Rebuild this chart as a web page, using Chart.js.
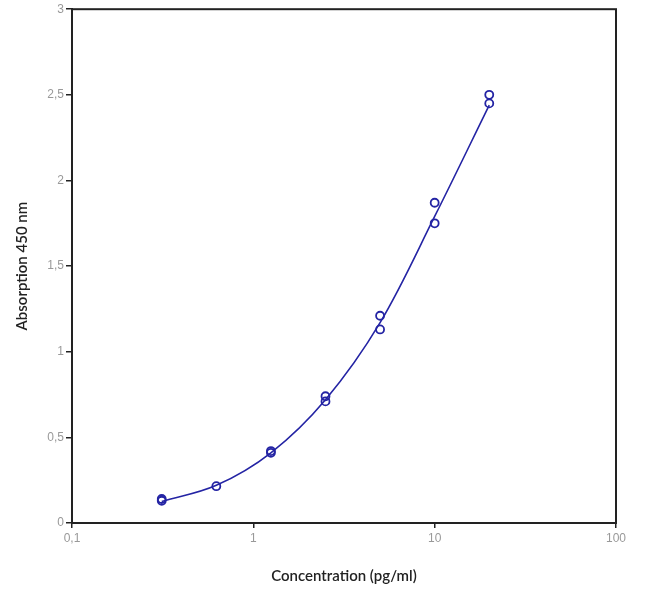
<!DOCTYPE html>
<html>
<head>
<meta charset="utf-8">
<script src="https://cdn.jsdelivr.net/npm/chart.js@4/dist/chart.umd.min.js"></script>
<style>
  html, body { margin: 0; padding: 0; background: #fff; }
  #wrap { width: 650px; height: 594px; }
</style>
</head>
<body>
<div id="wrap"><canvas id="chart"></canvas></div>
<script>
// standard concentrations (pg/ml), duplicates
const conc = [0.3125, 0.3125, 0.625, 1.25, 1.25, 2.5, 2.5, 5, 5, 10, 10, 20, 20];
const absorb = [0.14, 0.13, 0.215, 0.42, 0.41, 0.74, 0.71, 1.21, 1.13, 1.87, 1.75, 2.50, 2.45];

// fitted curve
const fitConc = [0.3125, 0.625, 1.25, 2.5, 5, 10, 20];
const fitAbs = [0.125, 0.22, 0.41, 0.72, 1.17, 1.79, 2.44];

const xTicks = [0.1, 1, 10, 100];
const xTickLabels = ["0,1", "1", "10", "100"];
const yTicks = [0, 0.5, 1, 1.5, 2, 2.5, 3];
const yTickLabels = ["0", "0,5", "1", "1,5", "2", "2,5", "3"];

const blue = "#2424a4";

const frame = {
  id: "frame",
  afterDraw(chart) {
    const a = chart.chartArea, ctx = chart.ctx;
    ctx.save();
    ctx.strokeStyle = "#222";
    ctx.lineWidth = 2;
    ctx.strokeRect(a.left, a.top, a.right - a.left, a.bottom - a.top);
    ctx.restore();
  }
};

new Chart(document.getElementById("chart"), {
  type: "scatter",
  data: {
    datasets: [
      {
        type: "line",
        data: fitConc.map((c, i) => ({ x: c, y: fitAbs[i] })),
        borderColor: blue,
        borderWidth: 1.6,
        pointRadius: 0,
        tension: 0.35,
        fill: false,
      },
      {
        data: conc.map((c, i) => ({ x: c, y: absorb[i] })),
        borderColor: blue,
        backgroundColor: "rgba(0,0,0,0)",
        borderWidth: 1.8,
        pointRadius: 4,
      },
    ],
  },
  options: {
    responsive: true,
    maintainAspectRatio: false,
    animation: false,
    layout: { padding: { left: 0, right: 34, top: 7, bottom: 0 } },
    plugins: {
      legend: { display: false },
      tooltip: { enabled: false },
    },
    scales: {
      x: {
        type: "logarithmic",
        min: 0.1,
        max: 100,
        afterBuildTicks: (s) => { s.ticks = xTicks.map((v) => ({ value: v })); },
        afterFit: (s) => { s.height = 71; },
        grid: { drawOnChartArea: false, tickLength: 5, color: "#222", lineWidth: 1.5 },
        border: { color: "#222", width: 2 },
        ticks: {
          color: "#999",
          font: { family: "Liberation Sans", size: 12 },
          padding: 3,
          callback: (v) => xTickLabels[xTicks.indexOf(v)],
        },
        title: {
          display: true,
          text: "Concentration (pg/ml)",
          color: "#222",
          font: { family: "Lato", size: 15, weight: "600" },
          padding: { top: 8, bottom: 9 },
        },
      },
      y: {
        min: 0,
        max: 3,
        afterBuildTicks: (s) => { s.ticks = yTicks.map((v) => ({ value: v })); },
        afterFit: (s) => { s.width = 72; },
        grid: { drawOnChartArea: false, tickLength: 6, color: "#222", lineWidth: 1.5 },
        border: { color: "#222", width: 2 },
        ticks: {
          color: "#999",
          font: { family: "Liberation Sans", size: 12 },
          padding: 2,
          callback: (v) => yTickLabels[yTicks.indexOf(v)],
        },
        title: {
          display: true,
          text: "Absorption 450 nm",
          color: "#222",
          font: { family: "Lato", size: 15, weight: "600" },
          padding: { top: 13, bottom: 6 },
        },
      },
    },
  },
  plugins: [frame],
});
</script>
</body>
</html>
